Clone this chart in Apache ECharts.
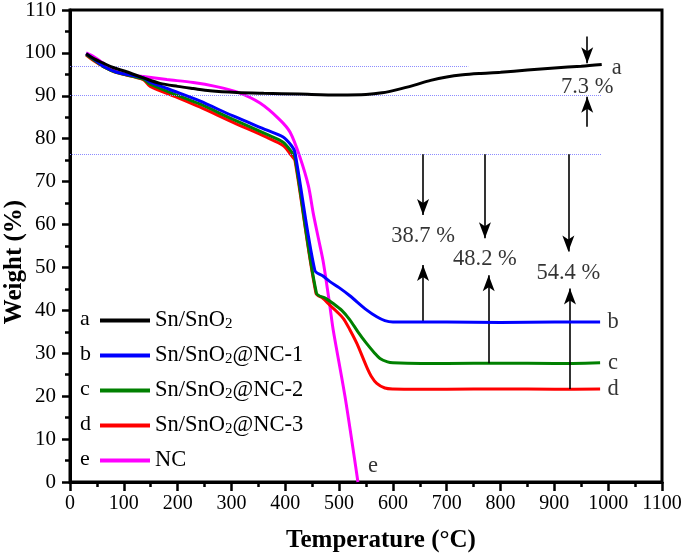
<!DOCTYPE html>
<html><head><meta charset="utf-8">
<script src="https://cdn.jsdelivr.net/npm/echarts@6/dist/echarts.min.js"></script>
<style>html,body{margin:0;padding:0;background:#fff}#c{width:685px;height:555px}</style>
</head><body><div id="c"></div>
<script>
const seriesNames = ['Sn/SnO2','Sn/SnO2@NC-1','Sn/SnO2@NC-2','Sn/SnO2@NC-3','NC'];
const seriesLetters = ['a','b','c','d','e'];
const seriesColors = ['#000000','#0000ff','#008000','#ff0000','#ff00ff'];

const tempA = [30,45,62,80,105,136,167,200,229,260,310,360,427,500,550,580,610,640,670,700,730,760,800,850,900,950,988];
const weightA = [99.8,98.6,97.6,96.6,95.6,94.2,92.9,92.2,91.7,91.2,90.8,90.6,90.4,90.2,90.3,90.7,91.5,92.5,93.6,94.4,94.9,95.2,95.5,96.0,96.5,96.9,97.3];

const tempB = [30,45,62,87,136,149,200,241,303,366,396,412,418,455,470,483,500,520,551,570,585,600,700,800,900,985];
const weightB = [99.8,98.5,96.9,95.5,94.2,93.2,90.8,88.8,85.3,82.0,80.4,78.3,76.8,49.3,48.0,46.7,45.3,43.4,40.1,38.5,37.6,37.3,37.3,37.2,37.3,37.3];

const tempC = [30,45,62,87,136,149,200,241,303,366,396,412,418,458,475,489,505,520,535,551,565,576,590,600,700,800,900,985];
const weightC = [99.6,98.3,96.8,95.4,93.9,92.7,90.1,88.1,84.5,81.0,79.2,76.9,75.6,44.0,42.8,41.6,40.0,37.8,35.0,32.3,30.2,28.8,28.0,27.8,27.6,27.7,27.6,27.8];

const tempD = [30,45,62,87,136,149,200,241,303,366,396,412,418,457,470,483,495,508,520,533,551,560,570,585,600,700,800,900,985];
const weightD = [99.5,98.1,96.8,95.4,93.8,92.2,89.6,87.4,83.8,80.3,78.4,76.0,74.9,44.0,42.8,41.2,39.8,38.1,35.5,32.3,26.9,24.6,23.0,21.9,21.7,21.6,21.7,21.6,21.7];

const tempE = [30,43,62,80,105,136,180,229,270,310,353,390,409,427,443,452,462,471,483,489,511,535];
const weightE = [100,99.2,97.6,96.0,94.9,94.5,93.8,93.1,92.2,90.9,88.3,84.4,81.5,75.8,69.0,62.6,56.5,51.0,40.9,35.5,19.9,0];

const xTicks = {min:0, max:1100, interval:100};
const yTicks = {min:0, max:110, interval:10};

// reference dotted lines: [xStart, xEnd, y]
const refLines = [[0,740,96.9],[0,988,90.2],[0,988,76.4]];
// arrows: [x, yFrom, yTo]
const arrowsDown = [[961,103.8,97.6],[656,76.4,62.2],[771,76.4,56.8],[926,76.4,53.7]];
const arrowsUp = [[961,82.8,89.8],[656,37.3,50.6],[778,27.7,48.2],[929,21.7,45.1]];
// text labels: [text, x, y]
const pctLabels = [['7.3 %',961,92.1],['38.7 %',656,57.3],['48.2 %',771,51.9],['54.4 %',926,48.6]];
const curveLabels = [['a',1016,96.4],['b',1009,37.3],['c',1009,27.8],['d',1009,21.7],['e',563,3.6]];

const FONT = '"Liberation Serif","Times New Roman",serif';
const zip = (t,w) => t.map((v,i)=>[v,w[i]]);
const allData = [zip(tempA,weightA),zip(tempB,weightB),zip(tempC,weightC),zip(tempD,weightD),zip(tempE,weightE)];

const chart = echarts.init(document.getElementById('c'), null, {renderer:'canvas'});

const lineSeries = seriesNames.map((n,i)=>({
  name:n, type:'line', data:allData[i], symbol:'none', showSymbol:false,
  smooth:0.3,
  lineStyle:{color:seriesColors[i], width:3}, itemStyle:{color:seriesColors[i]},
  z: i===0 ? 6 : 5 - i + 1
}));

const annot = {
  type:'line', data:[], silent:true, symbol:'none',
  markLine:{
    silent:true, animation:false,
    label:{show:false},
    data:[
      ...refLines.map(r=>[{coord:[r[0],r[2]],symbol:'none',lineStyle:{type:'dotted',color:'#8c8cff',width:1}},{coord:[r[1],r[2]],symbol:'none'}]),
      ...arrowsDown.concat(arrowsUp).map(a=>[{coord:[a[0],a[1]],symbol:'none',lineStyle:{type:'solid',color:'#000',width:1.6}},{coord:[a[0],a[2]],symbol:'arrow',symbolSize:[9,16]}])
    ]
  }
};

const textSeries = {
  type:'scatter', symbolSize:0, silent:true, z:10,
  data: pctLabels.concat(curveLabels).map(l=>({name:l[0], value:[l[1],l[2]]})),
  label:{show:true, position:'inside', formatter:'{b}', color:'#000', fontFamily:FONT, fontSize:22.5, textBorderWidth:0}
};

chart.setOption({
  animation:false,
  backgroundColor:'#fff',
  grid:{left:70, right:23, top:10, bottom:73, containLabel:false, outerBoundsMode:'none', show:true, borderColor:'#000', borderWidth:3, backgroundColor:'transparent'},
  legend:{
    data:seriesNames.map(n=>({name:n, icon:'rect'})), orient:'vertical', left:100, top:309, padding:0,
    itemWidth:50, itemHeight:4, itemGap:12, selectedMode:false,
    formatter:n=>n.replace('SnO2','SnO{sub|2}'),
    textStyle:{fontFamily:FONT, fontSize:22.5, color:'#000', lineHeight:23,
      rich:{sub:{fontFamily:FONT, fontSize:15, color:'#000', verticalAlign:'bottom', padding:[10,0,0,0]}}}
  },
  graphic: seriesLetters.map((l,i)=>({type:'text', left:80, top:308+i*35, style:{text:l, font:'22px '+FONT, fill:'#000'}})),
  xAxis:{
    type:'value', min:xTicks.min, max:xTicks.max, interval:xTicks.interval,
    name:'Temperature (°C)', nameLocation:'middle', nameGap:46, nameMoveOverlap:false,
    nameTextStyle:{fontFamily:FONT, fontSize:25, fontWeight:'bold', color:'#000', padding:[0,0,0,30]},
    axisLine:{show:true, onZero:false, lineStyle:{color:'#000', width:3}},
    axisTick:{show:true, inside:false, length:9, lineStyle:{color:'#000', width:2.5}},
    minorTick:{show:true, splitNumber:2, length:5, lineStyle:{color:'#000', width:2.5}},
    axisLabel:{fontFamily:FONT, fontSize:20, color:'#000', margin:12, formatter:v=>String(v)},
    splitLine:{show:false}
  },
  yAxis:{
    type:'value', min:yTicks.min, max:yTicks.max, interval:yTicks.interval,
    name:'Weight (%)', nameLocation:'middle', nameGap:43, nameMoveOverlap:false,
    nameTextStyle:{fontFamily:FONT, fontSize:25, fontWeight:'bold', color:'#000', padding:[0,32,0,0]},
    axisLine:{show:true, onZero:false, lineStyle:{color:'#000', width:3}},
    axisTick:{show:true, inside:false, length:8, lineStyle:{color:'#000', width:2.5}},
    minorTick:{show:true, splitNumber:2, length:5, lineStyle:{color:'#000', width:2.5}},
    axisLabel:{fontFamily:FONT, fontSize:21, color:'#000', margin:14, formatter:v=>String(v)},
    splitLine:{show:false}
  },
  series:[...lineSeries, annot, textSeries]
});
</script></body></html>
